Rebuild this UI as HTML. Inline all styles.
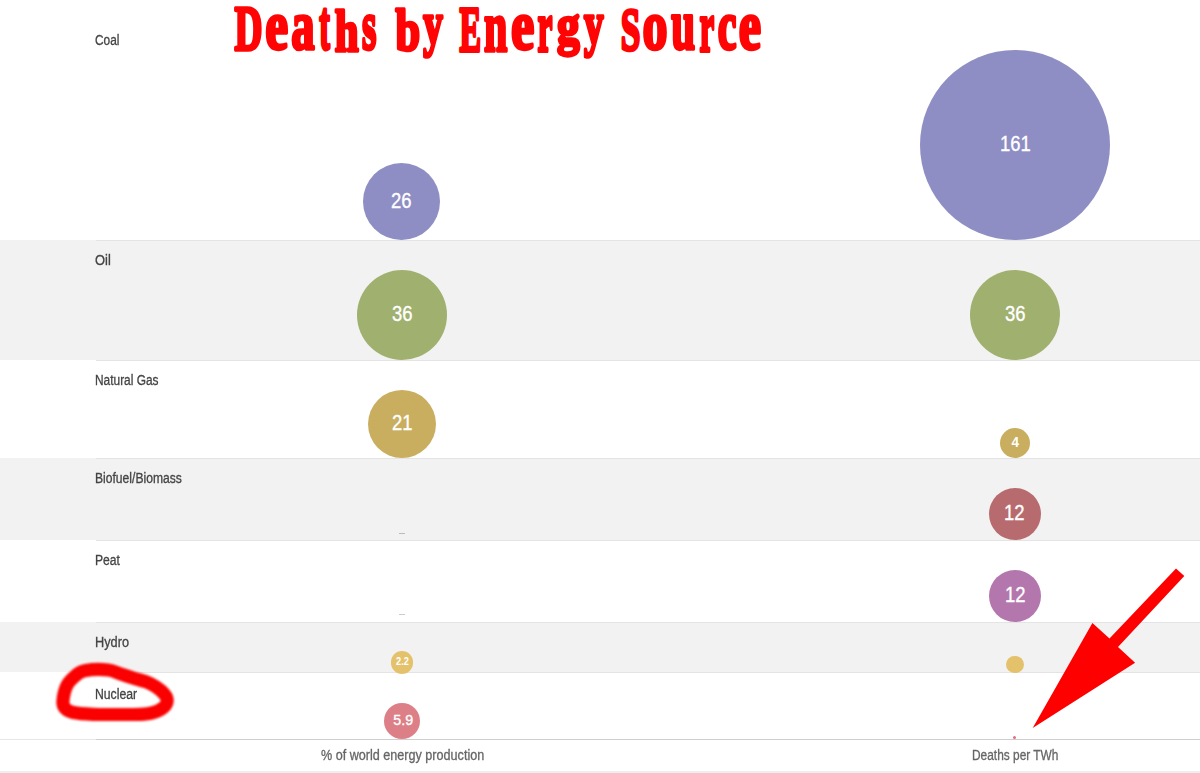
<!DOCTYPE html>
<html><head><meta charset="utf-8"><title>Deaths by Energy Source</title>
<style>
html,body{margin:0;padding:0;}
body{width:1200px;height:773px;overflow:hidden;background:#fff;position:relative;font-family:"Liberation Sans",sans-serif;}
.band{position:absolute;left:0;width:1200px;background:#f2f2f2;}
.rl{position:absolute;left:96px;width:1104px;height:1px;background:#e4e4e4;}
.lab{position:absolute;left:95px;font-size:14px;color:#444;-webkit-text-stroke:0.3px #444;white-space:nowrap;line-height:1;transform-origin:0 0;transform:scaleX(0.84);}
.c{position:absolute;border-radius:50%;color:#fff;display:flex;align-items:center;justify-content:center;line-height:1;}
.c span{display:inline-block;transform:translateY(-1.5px) scaleX(0.84);-webkit-text-stroke:0.35px #fff;}
.ax{position:absolute;font-size:14px;color:#666;-webkit-text-stroke:0.3px #666;white-space:nowrap;line-height:1;transform-origin:0 0;transform:scaleX(0.86);}
svg{position:absolute;left:0;top:0;}
</style></head><body>
<div class="band" style="top:240px;height:120px"></div>
<div class="band" style="top:458px;height:82px"></div>
<div class="band" style="top:622px;height:50px"></div>
<div class="rl" style="top:240px"></div>
<div class="rl" style="top:360px"></div>
<div class="rl" style="top:458px"></div>
<div class="rl" style="top:540px"></div>
<div class="rl" style="top:622px"></div>
<div class="rl" style="top:672px"></div>
<div style="position:absolute;left:0;top:739px;width:1200px;height:1px;background:#e6e6e6"></div>
<div style="position:absolute;left:96px;top:739px;width:1104px;height:1px;background:#cfcfcf"></div>
<div style="position:absolute;left:0;top:771px;width:1200px;height:2px;background:#eeeeee"></div>

<div class="lab" style="top:33px;transform:scaleX(0.85)">Coal</div>
<div class="lab" style="top:253px;transform:scaleX(0.92)">Oil</div>
<div class="lab" style="top:373px;transform:scaleX(0.85)">Natural Gas</div>
<div class="lab" style="top:471px;transform:scaleX(0.865)">Biofuel/Biomass</div>
<div class="lab" style="top:553px;transform:scaleX(0.867)">Peat</div>
<div class="lab" style="top:635px;transform:scaleX(0.91)">Hydro</div>
<div class="lab" style="top:687px;transform:scaleX(0.873)">Nuclear</div>

<div class="c" style="left:363px;top:163px;width:77px;height:77px;background:#8e8ec4;font-size:22px"><span>26</span></div>
<div class="c" style="left:920px;top:50px;width:190px;height:190px;background:#8e8ec4;font-size:22px"><span style="transform:translateY(-1.5px) scaleX(0.84)">161</span></div>
<div class="c" style="left:357px;top:270px;width:90px;height:90px;background:#a0b06e;font-size:22px"><span>36</span></div>
<div class="c" style="left:970px;top:270px;width:90px;height:90px;background:#a0b06e;font-size:22px"><span>36</span></div>
<div class="c" style="left:367.5px;top:389.5px;width:68.5px;height:68.5px;background:#c8ae5e;font-size:22px"><span>21</span></div>
<div class="c" style="left:1000px;top:428px;width:30px;height:30px;background:#c8ae5e;font-size:15px;font-weight:bold"><span style="transform:translateY(-2px) scaleX(0.9);-webkit-text-stroke:0">4</span></div>
<div class="c" style="left:988.5px;top:487.5px;width:52px;height:52px;background:#b86b6e;font-size:22px"><span>12</span></div>
<div class="c" style="left:989px;top:569.5px;width:52px;height:52px;background:#b377ad;font-size:22px"><span>12</span></div>
<div class="c" style="left:390.5px;top:651px;width:22.5px;height:22.5px;background:#e4c26c;font-size:10px;font-weight:bold"><span style="transform:translate(0.5px,-0.3px) scaleX(0.92);-webkit-text-stroke:0">2.2</span></div>
<div class="c" style="left:1006px;top:655.5px;width:17.5px;height:17.5px;background:#e4c26c"></div>
<div class="c" style="left:383.5px;top:703px;width:36px;height:36px;background:#dd7f87;font-size:15.5px"><span style="transform:translate(1.5px,-0.8px) scaleX(0.92)">5.9</span></div>
<div style="position:absolute;left:399px;top:533px;width:6px;height:1px;background:#bbb"></div>
<div style="position:absolute;left:399px;top:614px;width:6px;height:1px;background:#ccc"></div>
<div style="position:absolute;left:1013.3px;top:736px;width:3px;height:3px;border-radius:50%;background:#e07080"></div>

<div class="ax" style="left:321px;top:748px;transform:scaleX(0.90)">% of world energy production</div>
<div class="ax" style="left:971.5px;top:748px;transform:scaleX(0.85)">Deaths per TWh</div>


<svg width="1200" height="773" viewBox="0 0 1200 773"><defs><filter id="bl" x="-20%" y="-50%" width="140%" height="200%"><feGaussianBlur stdDeviation="0.8"/></filter></defs>
<path d="M85.8 670.4 C91.0 669.6 102.3 669.4 108.0 670.0 C113.7 670.6 115.6 672.4 120.0 673.8 C124.4 675.2 130.1 677.1 134.5 678.5 C138.9 679.9 142.8 680.5 146.4 681.9 C150.0 683.3 153.2 685.0 156.2 687.0 C159.2 689.0 162.5 691.8 164.3 694.0 C166.1 696.2 167.3 698.2 167.2 700.5 C167.1 702.8 165.9 705.5 163.5 707.5 C161.1 709.5 156.8 711.5 152.9 712.6 C149.0 713.7 146.3 714.0 140.0 714.3 C133.7 714.6 122.8 714.5 115.0 714.5 C107.2 714.5 100.2 714.6 93.3 714.3 C86.4 714.0 78.2 713.5 73.5 712.5 C68.8 711.5 67.2 710.4 65.4 708.6 C63.6 706.8 62.6 705.5 62.9 701.6 C63.2 697.7 64.7 689.7 67.0 685.2 C69.3 680.7 73.5 677.3 76.6 674.8 C79.7 672.3 80.6 671.2 85.8 670.4 Z" fill="none" stroke="#fa0606" stroke-width="13.2" stroke-linejoin="round" filter="url(#bl)"/>
<g font-family="Liberation Serif" font-weight="bold" font-size="100" fill="#ff0404" stroke="#ff0404" stroke-width="3.0" stroke-linejoin="round" style="vector-effect:non-scaling-stroke">
<text vector-effect="non-scaling-stroke" transform="matrix(0.3870 0 0 0.6251 234.50 49.52)">D</text>
<text vector-effect="non-scaling-stroke" transform="matrix(0.5146 0 0 0.7000 265.19 49.41)">e</text>
<text vector-effect="non-scaling-stroke" transform="matrix(0.4672 0 0 0.7000 291.14 49.41)">a</text>
<text vector-effect="non-scaling-stroke" transform="matrix(0.3200 0 0 0.7074 319.20 49.39)">t</text>
<text vector-effect="non-scaling-stroke" transform="matrix(0.4292 0 0 0.5973 334.83 50.50)">h</text>
<text vector-effect="non-scaling-stroke" transform="matrix(0.3701 0 0 0.7000 362.12 49.41)">s</text>
<text vector-effect="non-scaling-stroke" transform="matrix(0.4422 0 0 0.5843 395.60 49.59)">b</text>
<text vector-effect="non-scaling-stroke" transform="matrix(0.3920 0 0 0.6109 423.20 44.14)">y</text>
<text vector-effect="non-scaling-stroke" transform="matrix(0.3233 0 0 0.6400 459.59 50.50)">E</text>
<text vector-effect="non-scaling-stroke" transform="matrix(0.4198 0 0 0.7226 483.94 50.50)">n</text>
<text vector-effect="non-scaling-stroke" transform="matrix(0.5248 0 0 0.7000 511.06 49.41)">e</text>
<text vector-effect="non-scaling-stroke" transform="matrix(0.3366 0 0 0.7226 537.47 50.50)">r</text>
<text vector-effect="non-scaling-stroke" transform="matrix(0.4521 0 0 0.5600 557.09 44.38)">g</text>
<text vector-effect="non-scaling-stroke" transform="matrix(0.3920 0 0 0.6109 584.10 44.14)">y</text>
<text vector-effect="non-scaling-stroke" transform="matrix(0.3520 0 0 0.6109 620.75 49.55)">S</text>
<text vector-effect="non-scaling-stroke" transform="matrix(0.5006 0 0 0.7000 642.54 49.41)">o</text>
<text vector-effect="non-scaling-stroke" transform="matrix(0.4292 0 0 0.7226 671.30 49.37)">u</text>
<text vector-effect="non-scaling-stroke" transform="matrix(0.3319 0 0 0.7226 699.48 50.50)">r</text>
<text vector-effect="non-scaling-stroke" transform="matrix(0.4224 0 0 0.7000 717.78 49.41)">c</text>
<text vector-effect="non-scaling-stroke" transform="matrix(0.5018 0 0 0.7000 738.83 49.41)">e</text>
</g>
<polygon points="1176,568.5 1184.3,576 1118,646.9 1135.1,662.8 1032.7,728.1 1092.4,622.9 1109.5,638.4" fill="#f00"/>
</svg>
</body></html>
